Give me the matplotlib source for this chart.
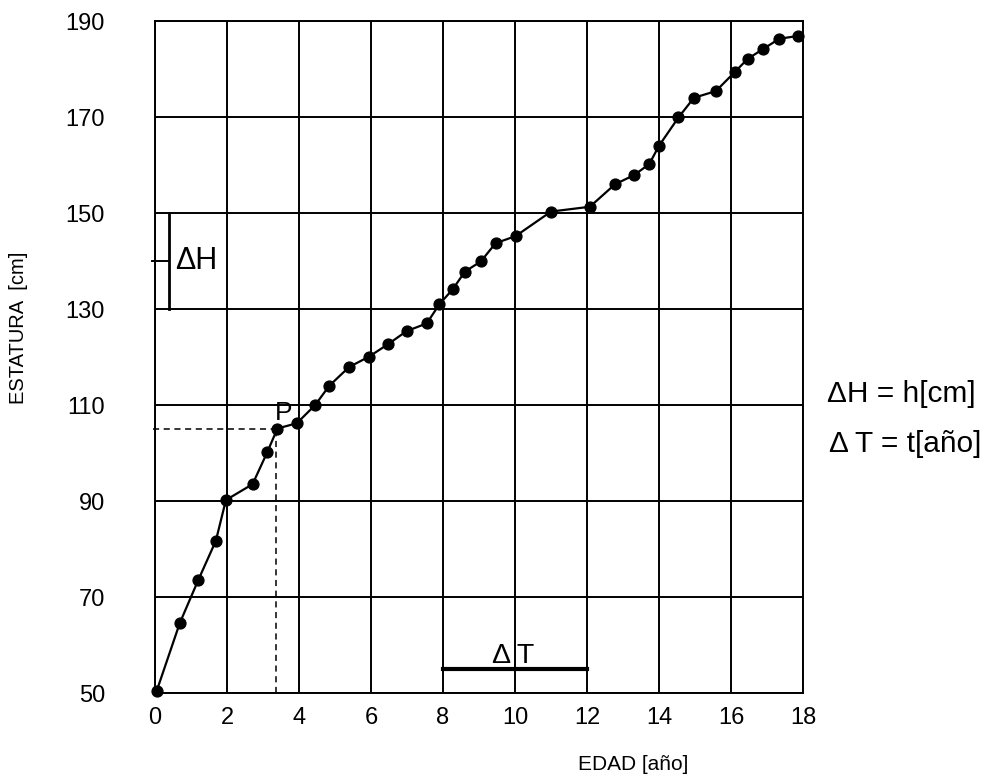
import matplotlib
matplotlib.use("Agg")
import matplotlib.pyplot as plt

plt.rcParams['font.family'] = ['Liberation Sans', 'DejaVu Sans']

edad = [0.05, 0.69, 1.2, 1.69, 1.97, 2.71, 3.12, 3.4, 3.94, 4.45, 4.84, 5.39, 5.95,
        6.48, 6.99, 7.55, 7.9, 8.27, 8.61, 9.05, 9.46, 10.02, 11.0, 12.08, 12.78,
        13.31, 13.73, 14.0, 14.54, 14.97, 15.58, 16.11, 16.46, 16.88, 17.34, 17.87]
estatura = [50.5, 64.6, 73.5, 81.7, 90.2, 93.5, 100.2, 105.1, 106.2, 110.0, 114.0,
            117.9, 120.1, 122.7, 125.4, 127.0, 131.0, 134.1, 137.8, 139.9, 143.7,
            145.2, 150.3, 151.3, 156.0, 157.9, 160.2, 164.0, 169.9, 174.0, 175.4,
            179.4, 182.1, 184.1, 186.3, 186.9]
xticks = [0, 2, 4, 6, 8, 10, 12, 14, 16, 18]
yticks = [50, 70, 90, 110, 130, 150, 170, 190]
p_point = (3.36, 105.0)
dh_range = (130, 150)
dt_range = (8, 12)

fig = plt.figure(figsize=(9.97, 7.82), dpi=100)
ax = fig.add_axes([155/997, 1-693/782, (803-155)/997, (693-21)/782])
ax.set_xlim(0, 18)
ax.set_ylim(50, 190)
ax.set_xticks(xticks)
ax.set_yticks(yticks)
ax.tick_params(axis='both', length=0, labelsize=17)
ax.tick_params(axis='y', pad=36)
ax.tick_params(axis='x', pad=10)
ax.grid(True, color='black', linewidth=1.4)
ax.set_axisbelow(True)
for s in ax.spines.values():
    s.set_linewidth(1.4)

ax.plot(edad, estatura, color='black', linewidth=1.6, marker='o', markersize=7.8,
        clip_on=False, zorder=5)

# dashed projection for P
ax.plot([-0.05, p_point[0]], [p_point[1], p_point[1]], color='black',
        linestyle=(0, (4, 3)), linewidth=1.1, zorder=4, clip_on=False)
ax.plot([p_point[0], p_point[0]], [50, p_point[1]], color='black',
        linestyle=(0, (4, 3)), linewidth=1.1, zorder=4)
ax.text(3.56, 106.9, 'P', fontsize=19, ha='center', va='baseline')

# Delta H bar
ax.plot([0.39, 0.39], dh_range, color='black', linewidth=2.0, zorder=4)
ax.plot([-0.07, 0.39], [140, 140], color='black', linewidth=1.4, zorder=4, clip_on=False)
ax.text(0.55, 140, 'ΔH', fontsize=22, ha='left', va='center')

# Delta T bar
ax.plot(dt_range, [55, 55], color='black', linewidth=3.0, zorder=4)
ax.text(9.95, 56.2, 'Δ T', fontsize=20.5, ha='center', va='baseline')

fig.text(827/997, 1-394/782, 'ΔH = h[cm]', fontsize=21.5, ha='left', va='center')
fig.text(829/997, 1-444/782, 'Δ T = t[año]', fontsize=21.5, ha='left', va='center')

fig.text(633/997, 1-764/782, 'EDAD [año]', fontsize=15, ha='center', va='center')
fig.text(19/997, 1-328/782, 'ESTATURA  [cm]', fontsize=14.5, ha='center', va='center',
         rotation=90)

fig.savefig('out.png', dpi=100)
